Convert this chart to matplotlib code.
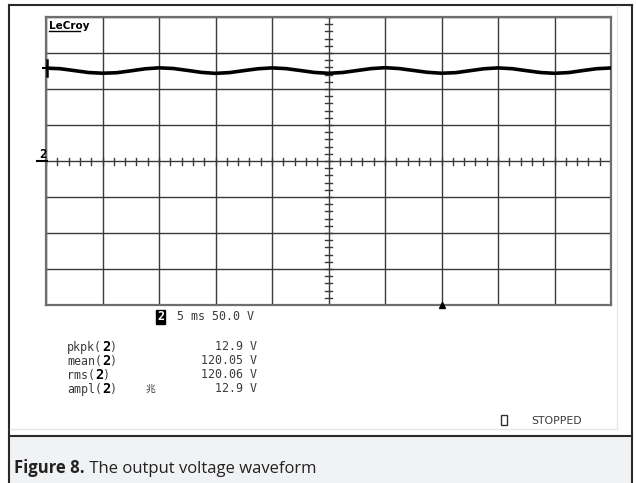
import numpy as np
import matplotlib
matplotlib.use("Agg")
import matplotlib.pyplot as plt
from matplotlib.patches import Rectangle

# ---- data ----
time_ms = [0.0, 1.25, 2.5, 3.75, 5.0, 6.25, 7.5, 8.75,
           10.0, 11.25, 12.5, 13.75, 15.0, 16.25, 17.5, 18.75,
           20.0, 21.25, 22.5, 23.75, 25.0, 26.25, 27.5, 28.75,
           30.0, 31.25, 32.5, 33.75, 35.0, 36.25, 37.5, 38.75,
           40.0, 41.25, 42.5, 43.75, 45.0, 46.25, 47.5, 48.75, 50.0]
volts = [129.0, 128.2, 125.6, 122.9, 121.9, 122.6, 125.2, 128.0,
         129.4, 128.5, 125.9, 123.1, 121.7, 122.8, 125.5, 128.1,
         129.3, 128.3, 125.7, 123.0, 121.8, 122.9, 125.6, 128.3,
         129.6, 128.4, 125.8, 123.2, 121.9, 122.7, 125.4, 128.1,
         129.3, 128.2, 125.5, 122.9, 121.8, 122.8, 125.6, 128.2, 129.2]

time_per_div = 5      # ms
volts_per_div = 50    # V
n_xdiv, n_ydiv = 10, 8
trigger_ms = 35.0

meas_labels = ["pkpk(", "mean(", "rms(", "ampl("]
meas_values = ["12.9 V", "120.05 V", "120.06 V", "12.9 V"]
caption_bold = "Figure 8."
caption_text = " The output voltage waveform"

W, H = 636, 483
fig = plt.figure(figsize=(W / 100, H / 100), dpi=100)
bg = fig.add_axes([0, 0, 1, 1], zorder=2)
bg.set_xlim(0, W)
bg.set_ylim(H, 0)
bg.axis("off")

# outer frame and caption band
bg.add_patch(Rectangle((9, 436), 623, 60, facecolor="#f1f2f4", edgecolor="none"))
bg.plot([9, 9], [5, 490], color="#2a2a2a", lw=1.5)
bg.plot([632, 632], [5, 490], color="#2a2a2a", lw=1.5)
bg.plot([9, 632], [5, 5], color="#2a2a2a", lw=1.5)
bg.plot([9, 632], [436, 436], color="#2a2a2a", lw=1.5)
# faint edge of scope screenshot
bg.plot([617, 617], [6, 429], color="#e6e6e6", lw=1)
bg.plot([10, 617], [429, 429], color="#e6e6e6", lw=1)

# caption
t1 = bg.text(14, 477, caption_bold, fontsize=12, fontweight="bold",
             family="Open Sans", va="bottom", ha="left", color="#222222")
bg.annotate(caption_text, xy=(1, 0), xycoords=t1, fontsize=12,
            family="Open Sans", va="bottom", ha="left", color="#222222")

# ---- scope axes ----
x0, x1, y0, y1 = 46, 611, 17, 305
ax = fig.add_axes([x0 / W, 1 - y1 / H, (x1 - x0) / W, (y1 - y0) / H], zorder=1)
xmax = n_xdiv * time_per_div
ymax = n_ydiv / 2 * volts_per_div
ax.set_xlim(0, xmax)
ax.set_ylim(-ymax, ymax)
ax.set_xticks(np.arange(0, xmax + 1, time_per_div))
ax.set_yticks(np.arange(-ymax, ymax + 1, volts_per_div))
ax.grid(True, color="#3a3a3a", lw=1.0)
ax.tick_params(length=0, labelbottom=False, labelleft=False)
for s in ax.spines.values():
    s.set_color("#6e6e6e")
    s.set_linewidth(1.6)
ax.set_facecolor("white")

# center axis minor ticks
px_x = xmax / (x1 - x0)
px_y = 2 * ymax / (y1 - y0)
for xm in np.arange(0, xmax + 0.01, time_per_div / 5):
    ax.plot([xm, xm], [-3.5 * px_y, 3.5 * px_y], color="#3a3a3a", lw=1.0)
for ym in np.arange(-ymax, ymax + 0.01, volts_per_div / 5):
    ax.plot([xmax / 2 - 3.5 * px_x, xmax / 2 + 3.5 * px_x], [ym, ym], color="#3a3a3a", lw=1.0)

# waveform
ax.plot(time_ms, volts, color="black", lw=2.6, solid_joinstyle="round", zorder=5)
# left ground marker
ax.plot([0.05, 0.05], [volts[0] - 11, volts[0] + 11], color="black", lw=1.8, zorder=6, clip_on=False)
ax.plot([-0.25, 0.35], [volts[0], volts[0]], color="black", lw=1.5, zorder=6, clip_on=False)
# trigger marker
ax.plot([trigger_ms], [-ymax], marker="^", ms=4, color="black", clip_on=False, zorder=6)

# LeCroy label
bg.text(49, 29, "LeCroy", fontsize=7.5, fontweight="bold", family="DejaVu Sans",
        va="baseline", ha="left")
bg.plot([49, 80], [31, 31], color="black", lw=1)
# channel marker
bg.text(39, 158, "2", fontsize=9, fontweight="bold", family="DejaVu Sans Mono",
        va="baseline", ha="left")
bg.plot([37, 47], [161, 161], color="black", lw=1.5)

mono = "DejaVu Sans Mono"
fs = 8.4
col = "#3a3a3a"
# scale line
bg.text(157, 317, "2", fontsize=fs, fontweight="bold", family=mono, color="white",
        va="center", ha="left",
        bbox=dict(boxstyle="square,pad=0.08", facecolor="black", edgecolor="black"))
bg.text(177, 317, "5 ms 50.0 V", fontsize=fs, family=mono, color=col, va="center", ha="left")

rows_y = [347, 361, 375, 389]
for lab, val, yy in zip(meas_labels, meas_values, rows_y):
    tl = bg.text(67, yy, lab, fontsize=fs, family=mono, color=col, va="center", ha="left")
    t2 = bg.annotate("2", xy=(1, 0.5), xycoords=tl, fontsize=fs + 1.5, fontweight="bold",
                     family=mono, va="center", ha="left", color="black")
    bg.annotate(")", xy=(1, 0.5), xycoords=t2, fontsize=fs, family=mono,
                va="center", ha="left", color=col)
    bg.text(257, yy, val, fontsize=fs, family=mono, color=col, va="center", ha="right")
bg.text(146, 389, "兆", fontsize=7, family=["Noto Sans CJK SC", "DejaVu Sans"],
        color=col, va="center", ha="left")

bg.add_patch(Rectangle((501, 415), 6, 10, facecolor="none", edgecolor="#333333", lw=1))
bg.text(531, 421, "STOPPED", fontsize=7.8, family="DejaVu Sans", color=col,
        va="center", ha="left")

fig.savefig("out.png", dpi=100)
